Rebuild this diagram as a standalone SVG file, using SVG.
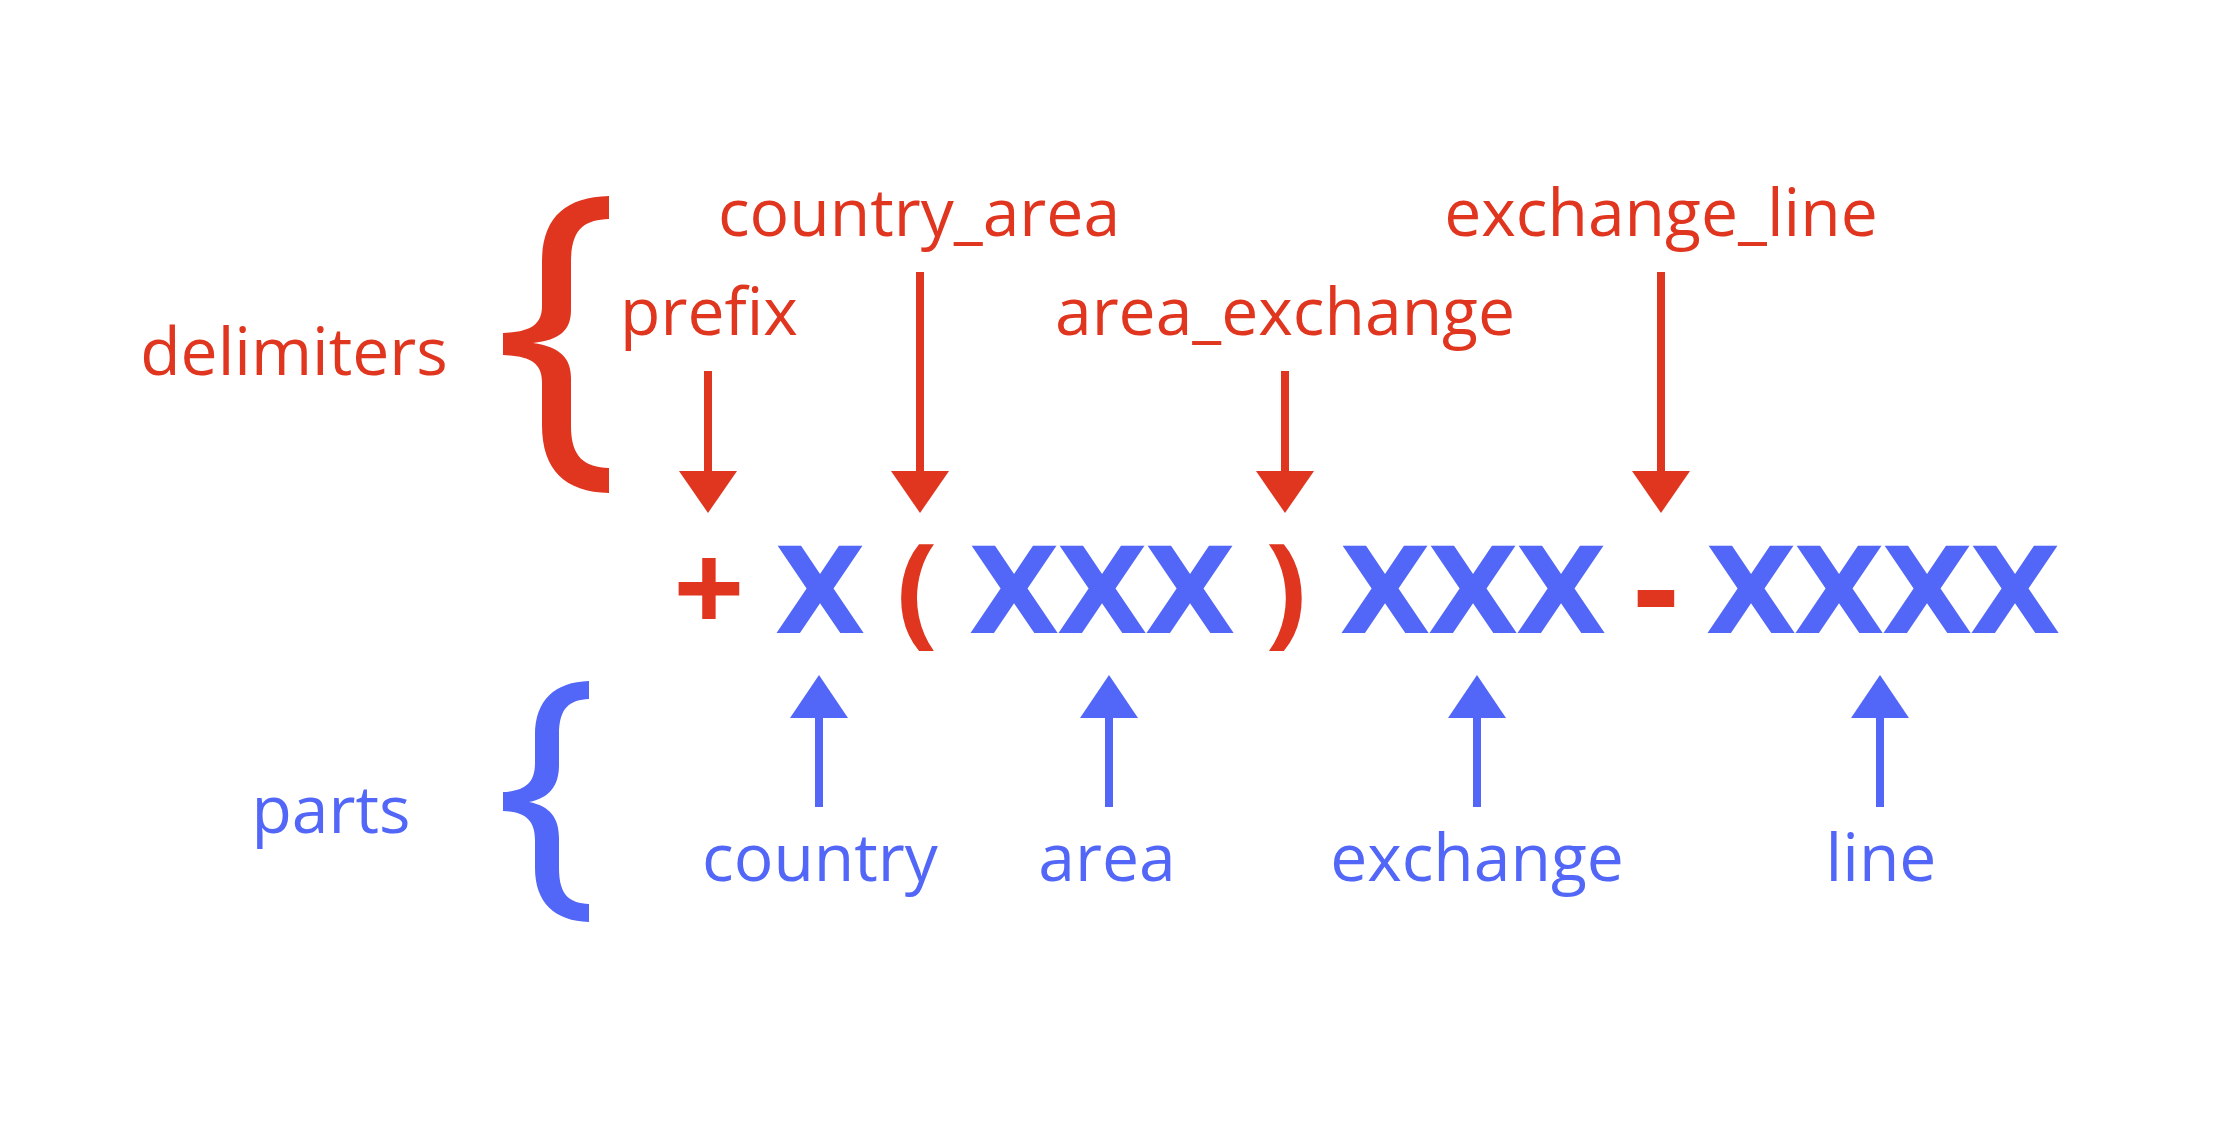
<svg xmlns="http://www.w3.org/2000/svg" width="2238" height="1146" viewBox="0 0 2238 1146">
<defs>
<style>
.lbl{font-family:"Open Sans","Liberation Sans",sans-serif;font-size:66px;text-anchor:middle}
.red{fill:#E0351F}
.blue{fill:#5267F7}
.big{font-family:"DejaVu Sans","Liberation Sans",sans-serif;font-weight:bold;font-size:119px;text-anchor:middle}
.sym{font-family:"Open Sans","Liberation Sans",sans-serif;font-weight:bold;text-anchor:middle}
.rl{stroke:#E0351F;stroke-width:8;fill:none}
.bl{stroke:#5267F7;stroke-width:8;fill:none}
</style>
</defs>
<rect width="2238" height="1146" fill="#ffffff"/>
<g id="delimiters-brace">
<text class="lbl red" x="294" y="375">delimiters</text>
<path class="red" d="M609,196 L609,219 C585,220 571,228 571,262 L571,310 C571,330 560,340 533,343 C560,347 571,358 571,378 L571,426 C571,458 585,467 609,468 L609,493 C565,492 542,470 542,425 L542,382 C542,363 530,356 503,355 L503,333 C530,332 542,325 542,306 L542,262 C542,218 565,197 609,196 Z"/>
</g>
<g id="parts-brace">
<text class="lbl blue" x="331" y="833">parts</text>
<path class="blue" d="M589,681 L589,699 C570,700 559,707 559,735 L559,765 C559,785 550,798 529,802 C550,806 559,818 559,838 L559,868 C559,896 570,903 589,904 L589,922 C555,921 535,903 535,868 L535,840 C535,820 525,812 503,811 L503,792 C525,791 535,783 535,763 L535,735 C535,700 555,682 589,681 Z"/>
</g>
<g id="label-prefix"><text class="lbl red" x="709" y="335">prefix</text></g>
<g id="label-country_area"><text class="lbl red" x="919" y="236">country_area</text></g>
<g id="label-area_exchange"><text class="lbl red" x="1285" y="335">area_exchange</text></g>
<g id="label-exchange_line"><text class="lbl red" x="1661" y="236">exchange_line</text></g>
<g id="label-country"><text class="lbl blue" x="820" y="881">country</text></g>
<g id="label-area"><text class="lbl blue" x="1107" y="881">area</text></g>
<g id="label-exchange"><text class="lbl blue" x="1477" y="881">exchange</text></g>
<g id="label-line"><text class="lbl blue" x="1881" y="881">line</text></g>
<g id="number">
<text class="sym red" x="709" y="633" font-size="125">+</text>
<text class="big blue" x="820" y="633">X</text>
<text class="sym red" x="917" y="632" font-size="122">(</text>
<text class="big blue" x="1014" y="633">X</text>
<text class="big blue" x="1102" y="633">X</text>
<text class="big blue" x="1190" y="633">X</text>
<text class="sym red" x="1286" y="632" font-size="122">)</text>
<text class="big blue" x="1385" y="633">X</text>
<text class="big blue" x="1473" y="633">X</text>
<text class="big blue" x="1561" y="633">X</text>
<text class="big red" x="1656" y="633">-</text>
<text class="big blue" x="1751" y="633">X</text>
<text class="big blue" x="1839" y="633">X</text>
<text class="big blue" x="1927" y="633">X</text>
<text class="big blue" x="2015" y="633">X</text>
</g>
<g id="connectors">
<line class="rl" x1="708" y1="371" x2="708" y2="472"/>
<polygon class="red" points="679,471 737,471 708,513"/>
<line class="rl" x1="920" y1="272" x2="920" y2="472"/>
<polygon class="red" points="891,471 949,471 920,513"/>
<line class="rl" x1="1285" y1="371" x2="1285" y2="472"/>
<polygon class="red" points="1256,471 1314,471 1285,513"/>
<line class="rl" x1="1661" y1="272" x2="1661" y2="472"/>
<polygon class="red" points="1632,471 1690,471 1661,513"/>
<line class="bl" x1="819" y1="807" x2="819" y2="717"/>
<polygon class="blue" points="790,718 848,718 819,675"/>
<line class="bl" x1="1109" y1="807" x2="1109" y2="717"/>
<polygon class="blue" points="1080,718 1138,718 1109,675"/>
<line class="bl" x1="1477" y1="807" x2="1477" y2="717"/>
<polygon class="blue" points="1448,718 1506,718 1477,675"/>
<line class="bl" x1="1880" y1="807" x2="1880" y2="717"/>
<polygon class="blue" points="1851,718 1909,718 1880,675"/>
</g>
</svg>
